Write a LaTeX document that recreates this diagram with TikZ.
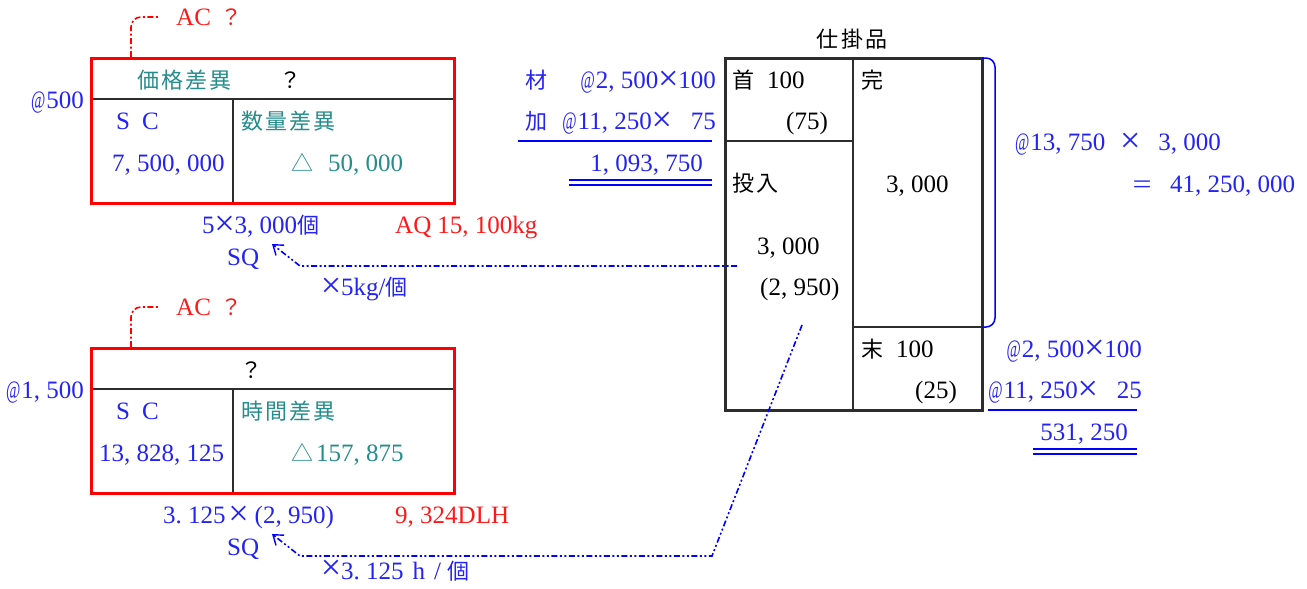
\documentclass[tikz,border=0pt]{standalone}
\usepackage{fontspec}
\setmainfont{Liberation Serif}
\newfontfamily\cjk{Noto Sans CJK JP}[Scale=0.88,LetterSpace=10]
\usetikzlibrary{arrows.meta}
\definecolor{tblue}{RGB}{35,35,245}
\definecolor{tteal}{RGB}{38,140,140}
\definecolor{tred}{RGB}{255,25,25}
\definecolor{boxk}{RGB}{45,45,45}
\newcommand\Cm{\makebox[0.5em][l]{,}}
\newcommand\Pd{\makebox[0.5em][l]{.}}
\newcommand\Xm{\makebox[0.8em]{\raisebox{-0.08em}{\scalebox{1.45}{×}}}}
\newcommand\Eq{\makebox[0.8em]{\raisebox{-0.05em}{\scalebox{1.35}[1.1]{=}}}}
\newcommand\At{\makebox[0.65em]{\scalebox{0.62}[1]{@}}}
\tikzset{
  lbl/.style={anchor=base west, inner sep=0pt, font=\fontsize{25}{28}\selectfont},
  lblr/.style={lbl, anchor=base east},
  lblc/.style={lbl, anchor=base},
  redbox/.style={draw=red, line width=3pt},
  innerln/.style={draw=boxk, line width=2pt},
  wipbox/.style={draw=boxk, line width=3pt},
  wipin/.style={draw=boxk, line width=2.5pt},
  dline/.style={draw=blue, line width=1.6pt, dash pattern=on 6pt off 2.5pt on 2pt off 2.5pt on 2pt off 2.5pt},
  rline/.style={draw=red, line width=1.6pt, dash pattern=on 6pt off 2.5pt on 2pt off 2.5pt},
  uline/.style={draw=blue, line width=1.4pt},
  arr/.style={-{Straight Barb[length=9pt,width=13pt,line width=1.4pt]}},
}
\begin{document}
\begin{tikzpicture}[x=1pt,y=-1pt]
\useasboundingbox (0,0) rectangle (1307,589);
\fill[white] (0,0) rectangle (1307,589);

% ---------- top variance box ----------
\draw[innerln] (91,99) -- (454,99);
\draw[innerln] (233,99) -- (233,203);
\draw[redbox] (91,58) rectangle (454,203);
\coordinate (acA) at (131,57);
\coordinate (acB) at (158,17);
\draw[rline, rounded corners=10pt] (acA) -- (131,17) -- (acB);
\node[lbl,text=tred] (ac1) at (176,25) {AC\hspace{10pt}{\cjk ？}};
\node[lbl,text=tteal] (pv) at (137,88) {\cjk 価格差異};
\node[lbl,text=black] (q1) at (279,88) {\cjk ？};
\node[lblr,text=tblue] (p1) at (84,108) {\At500};
\node[lbl,text=tblue] (sc1) at (116,129) {S\hspace{12pt}C};
\node[lbl,text=tblue] (sc1v) at (112,171) {7\Cm500\Cm000};
\node[lbl,text=tteal] (qv) at (241,129) {\cjk 数量差異};
\node[lbl,text=tteal] (qvv) at (291,171) {{\cjk △}\hspace{15pt}50\Cm000};
\node[lbl,text=tblue] (sq1t) at (202,233) {5\Xm3\Cm000{\cjk 個}};
\node[lbl,text=tred] (aq) at (395,233) {AQ\hspace{6pt}15\Cm100kg};
\node[lbl,text=tblue] (sq1) at (227,265) {SQ};
\node[lbl,text=tblue] (kg) at (321,295) {\Xm5kg/{\cjk 個}};

% ---------- bottom variance box ----------
\draw[innerln] (91,389) -- (454,389);
\draw[innerln] (233,389) -- (233,493);
\draw[redbox] (91,348) rectangle (454,493);
\coordinate (acC) at (131,347);
\coordinate (acD) at (158,307);
\draw[rline, rounded corners=10pt] (acC) -- (131,307) -- (acD);
\node[lbl,text=tred] (ac2) at (176,315) {AC\hspace{10pt}{\cjk ？}};
\node[lbl,text=black] (q2) at (240,378) {\cjk ？};
\node[lblr,text=tblue] (p2) at (84,398) {\At1\Cm500};
\node[lbl,text=tblue] (sc2) at (116,419) {S\hspace{12pt}C};
\node[lbl,text=tblue] (sc2v) at (99,461) {13\Cm828\Cm125};
\node[lbl,text=tteal] (tv) at (241,419) {\cjk 時間差異};
\node[lbl,text=tteal] (tvv) at (291,461) {{\cjk △}\hspace{3pt}157\Cm875};
\node[lbl,text=tblue] (sq2t) at (163,523) {3\Pd125\hspace{3pt}\Xm\hspace{6pt}(2\Cm950)};
\node[lbl,text=tred] (dlh) at (395,523) {9\Cm324DLH};
\node[lbl,text=tblue] (sq2) at (227,555) {SQ};
\node[lbl,text=tblue] (hr) at (321,579) {\makebox[0.8em]{\scalebox{1.45}{×}}3\Pd125\hspace{9pt}h\hspace{9pt}/\hspace{6pt}{\cjk 個}};

% ---------- work in process account ----------
\node[lblc,text=black] (wip) at (852,47) {\cjk 仕掛品};
\draw[wipin] (725,141) -- (853,141);
\draw[wipin] (853,58) -- (853,410);
\draw[wipin] (853,327) -- (982,327);
\draw[wipbox] (725,58) rectangle (982,410);
\node[lbl,text=black] (beg) at (732,88) {{\cjk 首}\hspace{13pt}100};
\node[lbl,text=black] (beg2) at (786,129) {(75)};
\node[lbl,text=black] (inp) at (732,191) {\cjk 投入};
\node[lbl,text=black] (inp1) at (757,254) {3\Cm000};
\node[lbl,text=black] (inp2) at (760,295) {(2\Cm950)};
\node[lbl,text=black] (fin) at (861,88) {\cjk 完};
\node[lbl,text=black] (fin1) at (886,192) {3\Cm000};
\node[lbl,text=black] (end) at (861,357) {{\cjk 末}\hspace{13pt}100};
\node[lbl,text=black] (end2) at (915,398) {(25)};

% ---------- beginning WIP cost ----------
\node[lbl,text=tblue] (m1) at (525,88) {\cjk 材};
\node[lblr,text=tblue] (m1v) at (716,88) {\At2\Cm500\Xm100};
\node[lbl,text=tblue] (k1) at (525,129) {\cjk 加};
\node[lblr,text=tblue] (k1v) at (716,129) {\At11\Cm250\Xm\hspace{19pt}75};
\draw[uline] (518,141) -- (712,141);
\node[lblr,text=tblue] (tot1) at (703,171) {1\Cm093\Cm750};
\draw[uline] (569,180) -- (712,180);
\draw[uline] (569,185) -- (712,185);

% ---------- completed ----------
\draw[blue, line width=1.5pt, rounded corners=9pt] (982,58) -- (995,58) -- (995,327) -- (982,327);
\node[lbl,text=tblue] (cu) at (1014,150) {\At13\Cm750\hspace{15pt}\Xm\hspace{18pt}3\Cm000};
\node[lbl,text=tblue] (cut) at (1132,192) {\Eq\hspace{18pt}41\Cm250\Cm000};

% ---------- ending WIP cost ----------
\node[lblr,text=tblue] (e1v) at (1142,357) {\At2\Cm500\Xm100};
\node[lblr,text=tblue] (e2v) at (1142,398) {\At11\Cm250\Xm\hspace{19pt}25};
\draw[uline] (988,410) -- (1137,410);
\node[lblr,text=tblue] (tot2) at (1128,440) {531\Cm250};
\draw[uline] (1033,449) -- (1137,449);
\draw[uline] (1033,454) -- (1137,454);

% ---------- connectors ----------
\coordinate (in1) at (737,266);
\coordinate (tip1) at (272,244);
\draw[dline, arr] (in1) -- (300,266) -- (tip1);
\coordinate (in2) at (802,325);
\coordinate (tip2) at (272,534);
\draw[dline, arr] (in2) -- (712,556) -- (300,556) -- (tip2);
\end{tikzpicture}
\end{document}
